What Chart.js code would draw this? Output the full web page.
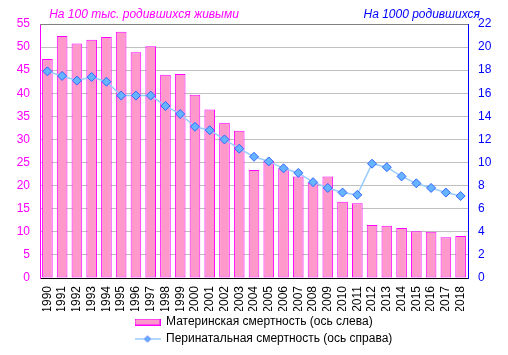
<!DOCTYPE html>
<html><head><meta charset="utf-8">
<script src="https://cdn.jsdelivr.net/npm/chart.js@4"></script>
<style>html,body{margin:0;padding:0;background:#fff}</style>
</head><body>
<canvas id="c" width="508" height="355"></canvas>
<script>
const FONT = "'Liberation Sans', Arial, sans-serif";
const years = ['1990','1991','1992','1993','1994','1995','1996','1997','1998','1999','2000','2001','2002','2003','2004','2005','2006','2007','2008','2009','2010','2011','2012','2013','2014','2015','2016','2017','2018'];
const maternal = [47.4,52.4,50.8,51.6,52.2,53.3,48.9,50.2,44.0,44.2,39.7,36.5,33.6,31.9,23.4,25.4,23.7,22.0,20.7,22.0,16.5,16.2,11.5,11.3,10.8,10.1,10.0,8.8,9.1];
const perinatal = [17.9,17.5,17.1,17.4,17.0,15.8,15.8,15.8,14.9,14.2,13.1,12.8,12.0,11.2,10.5,10.1,9.5,9.1,8.3,7.8,7.4,7.2,9.9,9.6,8.8,8.2,7.8,7.4,7.1];
const seriesNames = ['Материнская смертность (ось слева)','Перинатальная смертность (ось справа)'];
const leftTitle = 'На 100 тыс. родившихся живыми';
const rightTitle = 'На 1000 родившихся';

function barIcon(){
  const c=document.createElement('canvas');c.width=26;c.height=7;
  const x=c.getContext('2d');
  x.fillStyle='#FF99CC';x.fillRect(0,0,26,7);
  x.strokeStyle='#FF00FF';x.lineWidth=1;x.strokeRect(0.5,0.5,25,6);
  return c;
}
function lineIcon(){
  const c=document.createElement('canvas');c.width=26;c.height=9;
  const x=c.getContext('2d');
  x.strokeStyle='#66B3FF';x.lineWidth=1;x.beginPath();x.moveTo(0,4.5);x.lineTo(26,4.5);x.stroke();
  x.fillStyle='#66B3FF';x.strokeStyle='#3366FF';
  x.beginPath();x.moveTo(13,1.5);x.lineTo(16,4.5);x.lineTo(13,7.5);x.lineTo(10,4.5);x.closePath();x.fill();x.stroke();
  return c;
}
const icons=[barIcon(),lineIcon()];

const titlesPlugin={
  id:'titles',
  beforeLayout(chart){
    const leg=chart.legend;
    if(leg && !leg._patched){
      const orig=leg._fitRows.bind(leg);
      leg._fitRows=function(...a){const mw=this.maxWidth;this.maxWidth=300;const r=orig(...a);this.maxWidth=mw;return r;};
      leg._patched=true;
    }
  },
  afterLayout(chart){
    if(chart.legend){chart.legend.left=130;}
  },
  afterDraw(chart){
    const ctx=chart.ctx;const a=chart.chartArea;
    ctx.save();
    ctx.strokeStyle='#808080';ctx.lineWidth=1;
    ctx.beginPath();ctx.moveTo(a.left,Math.round(a.top)+0.5);ctx.lineTo(a.right,Math.round(a.top)+0.5);ctx.stroke();
    ctx.font='italic 12px '+FONT;ctx.textBaseline='middle';
    ctx.fillStyle='#FF00FF';ctx.textAlign='center';
    ctx.fillText(leftTitle,144,15);
    ctx.fillStyle='#0000FF';ctx.textAlign='right';
    ctx.fillText(rightTitle,480,15);
    ctx.restore();
  }
};

new Chart(document.getElementById('c'),{
  data:{
    labels:years,
    datasets:[
      {type:'bar',label:seriesNames[0],data:maternal,yAxisID:'yL',order:2,
       backgroundColor:'#FF99CC',borderColor:'#FF00FF',borderWidth:1,borderSkipped:false,
       barPercentage:0.72,categoryPercentage:1},
      {type:'line',label:seriesNames[1],data:perinatal,yAxisID:'yR',order:1,
       borderColor:'#99CCFF',borderWidth:1.5,tension:0,
       pointStyle:'rectRot',pointRadius:4.5,pointBackgroundColor:'#66B3FF',pointBorderColor:'#3366FF',pointBorderWidth:1}
    ]
  },
  options:{
    responsive:false,animation:false,
    layout:{padding:{top:24,left:0,right:0,bottom:0}},
    plugins:{
      tooltip:{enabled:false},
      legend:{position:'bottom',align:'start',
        labels:{usePointStyle:true,pointStyleWidth:25,padding:5,color:'#000',
          font:{family:FONT,size:12},
          generateLabels:(chart)=>seriesNames.map((t,i)=>({text:t,pointStyle:icons[i],datasetIndex:i,hidden:false,lineWidth:0,fillStyle:'transparent',strokeStyle:'transparent',fontColor:'#000'}))
        }
      }
    },
    scales:{
      x:{offset:true,
         grid:{display:false,drawTicks:false},
         border:{color:'#000',width:1},
         ticks:{autoSkip:false,maxRotation:90,minRotation:90,padding:8,color:'#000',font:{family:FONT,size:12}},
         afterFit(s){s.height=33;}
      },
      yL:{position:'left',min:0,max:55,
          ticks:{stepSize:5,padding:10,color:'#FF00FF',font:{family:FONT,size:12}},
          grid:{color:'#C0C0C0',drawTicks:false,lineWidth:1},
          border:{color:'#FF00FF',width:1},
          afterFit(s){s.width=40;}
      },
      yR:{position:'right',min:0,max:22,
          ticks:{stepSize:2,padding:10,color:'#0000FF',font:{family:FONT,size:12}},
          grid:{display:false,drawTicks:false},
          border:{color:'#0000FF',width:1},
          afterFit(s){s.width=40;}
      }
    }
  },
  plugins:[titlesPlugin]
});
</script>
</body></html>
